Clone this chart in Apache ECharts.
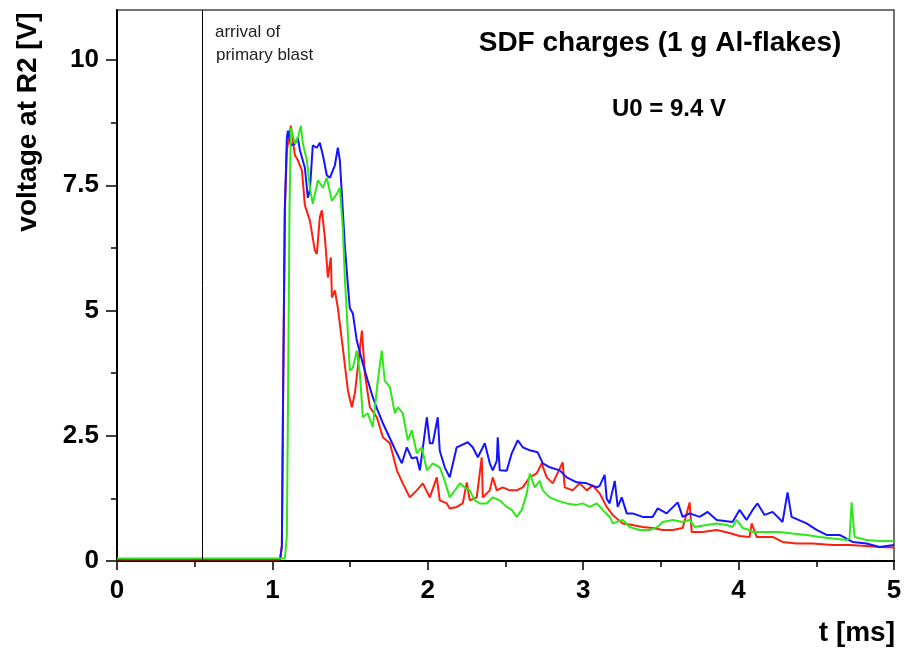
<!DOCTYPE html>
<html>
<head>
<meta charset="utf-8">
<script src="https://cdn.jsdelivr.net/npm/echarts@6/dist/echarts.min.js"></script>
<style>html,body{margin:0;padding:0;background:#fff;}#c{width:905px;height:653px;}</style>
</head>
<body>
<div id="c"></div>
<script>
// x ticks and y ticks
const xTicks = [0, 1, 2, 3, 4, 5];
const yTicks = [0, 2.5, 5, 7.5, 10];
const yMinorTicks = [1.25, 3.75, 6.25, 8.75];
const arrivalTime = 0.55;

// [t (ms), voltage (V)]
const redData = [[0,0.03],[0.3,0.03],[0.6,0.03],[0.9,0.03],[1.05,0.03],[1.061,0.3],[1.068,3.0],[1.08,7.0],[1.093,8.2],[1.119,8.69],[1.145,8.1],[1.164,8.0],[1.19,7.8],[1.209,7.1],[1.241,6.8],[1.273,6.2],[1.286,6.13],[1.305,6.86],[1.318,7.0],[1.338,6.45],[1.357,5.66],[1.376,6.06],[1.383,5.26],[1.402,5.4],[1.421,5.06],[1.453,4.26],[1.486,3.4],[1.511,3.07],[1.531,3.35],[1.576,4.6],[1.595,3.74],[1.627,3.07],[1.672,2.87],[1.711,2.47],[1.756,2.35],[1.801,1.81],[1.839,1.55],[1.884,1.27],[1.929,1.41],[1.968,1.55],[2.013,1.27],[2.058,1.67],[2.077,1.21],[2.122,1.15],[2.141,1.05],[2.186,1.08],[2.225,1.15],[2.251,1.57],[2.27,1.21],[2.315,1.27],[2.347,2.07],[2.354,1.27],[2.399,1.41],[2.418,1.67],[2.444,1.41],[2.482,1.47],[2.527,1.41],[2.572,1.41],[2.611,1.47],[2.656,1.67],[2.701,1.75],[2.733,1.95],[2.765,1.67],[2.804,1.55],[2.868,1.97],[2.881,1.47],[2.932,1.41],[2.977,1.55],[3.023,1.41],[3.061,1.51],[3.106,1.35],[3.151,1.08],[3.19,0.92],[3.254,0.75],[3.318,0.72],[3.383,0.68],[3.447,0.66],[3.511,0.62],[3.576,0.62],[3.64,0.66],[3.685,1.17],[3.698,0.58],[3.768,0.58],[3.859,0.62],[3.942,0.56],[4.006,0.5],[4.071,0.48],[4.084,0.75],[4.116,0.48],[4.219,0.48],[4.283,0.38],[4.373,0.35],[4.476,0.35],[4.605,0.32],[4.714,0.32],[4.823,0.3],[4.907,0.28],[5.0,0.27]];

const blueData = [[0,0.04],[0.3,0.04],[0.6,0.04],[0.9,0.04],[1.05,0.04],[1.061,0.3],[1.068,3.0],[1.08,7.0],[1.093,8.45],[1.1,8.59],[1.119,8.3],[1.145,8.33],[1.164,8.45],[1.177,8.2],[1.209,7.85],[1.228,7.25],[1.241,7.4],[1.26,8.3],[1.286,8.25],[1.305,8.35],[1.325,8.1],[1.35,7.7],[1.37,7.65],[1.402,7.9],[1.421,8.25],[1.434,8.0],[1.453,7.0],[1.466,6.3],[1.486,5.5],[1.498,5.05],[1.518,4.94],[1.543,4.4],[1.582,3.94],[1.614,3.6],[1.646,3.27],[1.678,3.0],[1.711,2.75],[1.756,2.45],[1.801,2.15],[1.833,1.95],[1.865,2.27],[1.897,2.05],[1.929,2.07],[1.949,1.81],[1.994,2.87],[2.013,2.35],[2.032,2.35],[2.064,2.87],[2.077,2.2],[2.109,1.87],[2.141,1.67],[2.186,2.27],[2.257,2.37],[2.289,2.27],[2.322,2.07],[2.367,2.35],[2.399,1.95],[2.418,1.81],[2.444,2.0],[2.45,2.47],[2.463,1.81],[2.508,1.8],[2.54,2.15],[2.579,2.41],[2.611,2.27],[2.656,2.21],[2.707,2.17],[2.74,1.95],[2.785,1.87],[2.849,1.81],[2.894,1.67],[2.958,1.57],[3.023,1.55],[3.087,1.47],[3.106,1.5],[3.138,1.72],[3.151,1.25],[3.17,1.15],[3.203,1.6],[3.222,1.08],[3.248,1.27],[3.28,0.95],[3.318,0.95],[3.383,0.88],[3.447,0.88],[3.479,1.05],[3.537,0.95],[3.608,1.17],[3.64,0.88],[3.685,0.95],[3.749,0.88],[3.801,0.98],[3.859,0.82],[3.961,0.78],[4.006,1.02],[4.051,0.82],[4.09,1.02],[4.122,1.15],[4.167,0.92],[4.219,0.98],[4.283,0.78],[4.315,1.37],[4.341,0.88],[4.437,0.75],[4.502,0.62],[4.566,0.52],[4.65,0.52],[4.733,0.38],[4.823,0.35],[4.907,0.28],[5.0,0.32]];

const greenData = [[0,0.05],[0.3,0.05],[0.6,0.05],[0.9,0.05],[1.08,0.05],[1.093,0.5],[1.1,3.0],[1.11,7.0],[1.119,8.65],[1.145,8.33],[1.164,8.45],[1.183,8.69],[1.196,8.33],[1.222,8.0],[1.241,7.45],[1.26,7.13],[1.293,7.6],[1.325,7.45],[1.35,7.65],[1.383,7.19],[1.415,7.33],[1.434,7.45],[1.453,6.65],[1.466,5.66],[1.479,4.94],[1.498,3.8],[1.518,3.86],[1.543,4.2],[1.563,3.74],[1.582,2.87],[1.614,2.95],[1.646,2.67],[1.678,3.6],[1.704,4.2],[1.723,3.6],[1.756,3.47],[1.788,2.95],[1.807,3.07],[1.839,2.95],[1.871,2.41],[1.897,2.61],[1.929,2.15],[1.961,2.27],[1.994,1.81],[2.032,1.95],[2.077,1.87],[2.109,1.6],[2.141,1.27],[2.174,1.41],[2.206,1.55],[2.238,1.47],[2.27,1.41],[2.302,1.21],[2.334,1.15],[2.379,1.15],[2.418,1.27],[2.463,1.21],[2.508,1.08],[2.54,1.02],[2.572,0.88],[2.605,1.02],[2.637,1.35],[2.656,1.75],[2.688,1.47],[2.72,1.6],[2.74,1.41],[2.785,1.27],[2.83,1.21],[2.894,1.15],[2.958,1.12],[2.997,1.15],[3.042,1.08],[3.087,1.15],[3.125,1.02],[3.17,0.88],[3.19,0.75],[3.254,0.82],[3.299,0.68],[3.363,0.62],[3.428,0.62],[3.479,0.68],[3.511,0.78],[3.576,0.82],[3.64,0.78],[3.685,0.82],[3.717,0.68],[3.794,0.72],[3.859,0.75],[3.923,0.72],[3.961,0.68],[3.987,0.82],[4.026,0.66],[4.071,0.62],[4.09,0.58],[4.18,0.58],[4.264,0.58],[4.347,0.55],[4.437,0.52],[4.521,0.48],[4.605,0.45],[4.695,0.42],[4.714,0.45],[4.727,1.17],[4.746,0.48],[4.823,0.42],[4.907,0.4],[5.0,0.4]];

const chart = echarts.init(document.getElementById('c'), null, {renderer: 'canvas'});
const FONT = 'Liberation Sans, Arial, sans-serif';

function lineSeries(name, data, color, z) {
  return {
    name: name, type: 'line', data: data, showSymbol: false, symbol: 'none',
    lineStyle: {color: color, width: 2}, z: z, animation: false
  };
}

const series = [
  lineSeries('red', redData, '#ff1f0f', 2),
  lineSeries('blue', blueData, '#1414ff', 3),
  lineSeries('green', greenData, '#2fe81a', 4)
];
series[0].markLine = {
  silent: true, symbol: 'none', animation: false,
  label: {show: false},
  lineStyle: {color: '#000', width: 1, type: 'solid'},
  data: [{xAxis: arrivalTime}]
};

chart.setOption({
  backgroundColor: '#fff',
  animation: false,
  grid: {left: 117, right: 11, top: 10, bottom: 92, show: true, borderColor: '#444', borderWidth: 1.5, backgroundColor: 'transparent'},
  xAxis: {
    type: 'value', min: xTicks[0], max: xTicks[xTicks.length - 1], interval: 1,
    axisLine: {show: true, lineStyle: {color: '#000', width: 2}},
    axisTick: {show: true, length: 9, lineStyle: {color: '#000', width: 1.5}},
    minorTick: {show: true, splitNumber: 2, length: 6, lineStyle: {color: '#000', width: 1.5}},
    splitLine: {show: false},
    axisLabel: {margin: 17, color: '#000', fontFamily: FONT, fontWeight: 'bold', fontSize: 26}
  },
  yAxis: [{
    type: 'value', min: 0, max: 11, interval: 2.5,
    axisLine: {show: true, lineStyle: {color: '#000', width: 2}},
    axisTick: {show: true, length: 11, customValues: yTicks, lineStyle: {color: '#000', width: 1.5}},
    splitLine: {show: false},
    axisLabel: {margin: 18, customValues: yTicks, color: '#000', fontFamily: FONT, fontWeight: 'bold', fontSize: 26,
      formatter: function (v) { return String(v); }}
  }, {
    type: 'value', min: 0, max: 11, interval: 2.5, position: 'left',
    axisLine: {show: false},
    axisTick: {show: true, length: 6, customValues: yMinorTicks, lineStyle: {color: '#000', width: 1.5}},
    axisLabel: {show: false},
    splitLine: {show: false}
  }],
  graphic: [
    {type: 'text', x: 28, y: 122, rotation: Math.PI / 2,
     style: {text: 'voltage at R2 [V]', fill: '#000', font: 'bold 28px ' + FONT, align: 'center', verticalAlign: 'middle'}},
    {type: 'text', x: 660, y: 43,
     style: {text: 'SDF charges (1 g Al-flakes)', fill: '#000', font: 'bold 28px ' + FONT, align: 'center', verticalAlign: 'middle'}},
    {type: 'text', x: 669, y: 109,
     style: {text: 'U0 = 9.4 V', fill: '#000', font: 'bold 24px ' + FONT, align: 'center', verticalAlign: 'middle'}},
    {type: 'text', x: 895, y: 633,
     style: {text: 't [ms]', fill: '#000', font: 'bold 28px ' + FONT, align: 'right', verticalAlign: 'middle'}},
    {type: 'text', x: 215, y: 32,
     style: {text: 'arrival of', fill: '#222', font: '17px ' + FONT, align: 'left', verticalAlign: 'middle'}},
    {type: 'text', x: 216, y: 55,
     style: {text: 'primary blast', fill: '#222', font: '17px ' + FONT, align: 'left', verticalAlign: 'middle'}}
  ],
  series: series
});
</script>
</body>
</html>
